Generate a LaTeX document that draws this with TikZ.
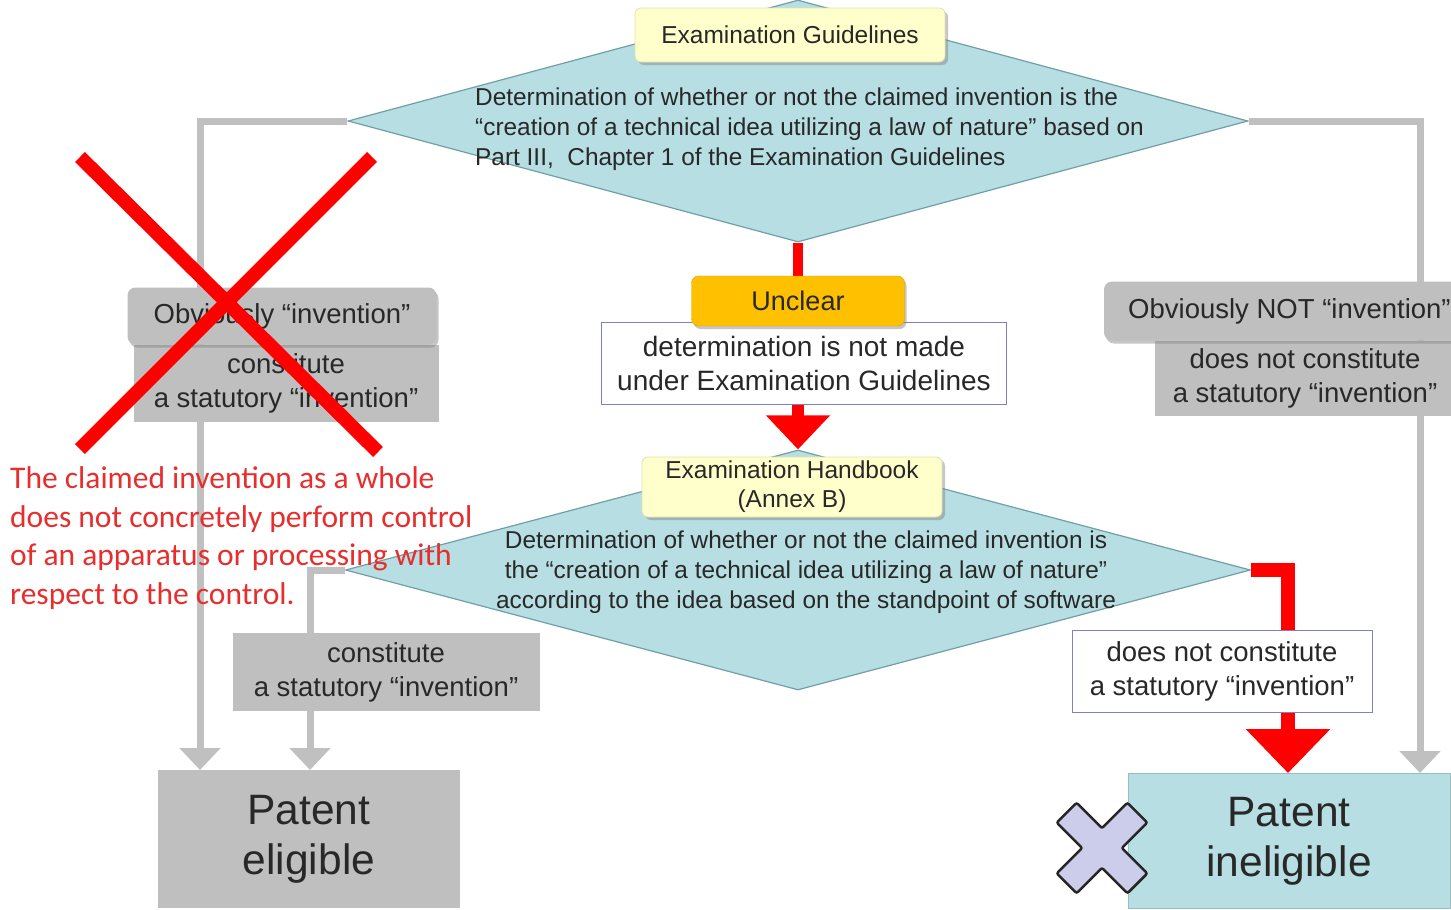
\documentclass[tikz,border=0pt]{standalone}
\usepackage{fontspec}
\setmainfont{Liberation Sans}
\newfontfamily\notefont{Carlito}
\usetikzlibrary{shapes.geometric,arrows.meta,shadows}

\definecolor{diafill}{RGB}{183,222,226}
\definecolor{diaedge}{RGB}{112,160,166}
\definecolor{boxgray}{RGB}{191,191,191}
\definecolor{linegray}{RGB}{192,192,192}
\definecolor{paleyellow}{RGB}{255,255,204}
\definecolor{yellowedge}{RGB}{225,225,175}
\definecolor{amber}{RGB}{255,192,0}
\definecolor{amberedge}{RGB}{220,160,0}
\definecolor{frame}{RGB}{128,128,200}
\definecolor{ink}{RGB}{40,40,40}
\definecolor{notered}{RGB}{232,45,45}
\definecolor{lavender}{RGB}{204,204,235}

\tikzset{
  diam/.style={shape=diamond, draw=diaedge, fill=diafill, line width=1.2pt, inner sep=0pt},
  tag/.style={draw=yellowedge, fill=paleyellow, rounded corners=6pt, line width=0.8pt,
    drop shadow={shadow xshift=3pt, shadow yshift=-3pt, opacity=0.45}, inner sep=0pt,
    text=ink, align=center, font=\fontsize{24.5}{29}\selectfont},
  graytab/.style={fill=boxgray, rounded corners=8pt, inner sep=0pt,
    drop shadow={shadow xshift=2pt, shadow yshift=-3pt, opacity=0.45},
    text=ink, font=\fontsize{27.5}{30}\selectfont},
  grayrect/.style={fill=boxgray, inner sep=0pt, text=ink, align=center,
    font=\fontsize{27.5}{34}\selectfont},
  framebox/.style={draw=frame, fill=white, line width=1pt, inner sep=0pt, text=ink,
    align=center, font=\fontsize{28}{34}\selectfont},
  resultbox/.style={inner sep=0pt, text=ink, align=center, font=\fontsize{42.5}{50}\selectfont},
  graylink/.style={draw=linegray, line width=7pt, -{Triangle[width=40pt,length=22pt]}},
  redlink/.style={draw=red, line width=12pt},
  difftext/.style={text=ink, font=\fontsize{24.4}{30}\selectfont, inner sep=0pt},
}

\begin{document}
\begin{tikzpicture}[x=1pt,y=-1pt]
\useasboundingbox (0,0) rectangle (1451,910);

% landing points on the result boxes
\coordinate (peL) at (200,770);
\coordinate (peR) at (310,770);
\coordinate (piR) at (1420,773);
\coordinate (piM) at (1288,773);

% decision diamonds
\node[diam, minimum width=900pt, minimum height=242pt] (d1) at (798,121) {};
\node[diam, minimum width=905pt, minimum height=240pt] (d2) at (798,570) {};

% grey branches behind everything else
\draw[graylink] (d1.west) -| (peL);
\draw[graylink] (d1.east) -| (piR);
\draw[graylink] (d2.west) -| (peR);

% red branch from the handbook decision
\draw[redlink, line width=14pt, -{Triangle[width=82pt,length=44pt]}] (d2.east) -| (piM);

% texts inside the diamonds
\node[difftext, align=left, anchor=west] (d1t) at (475,129)
  {Determination of whether or not the claimed invention is the\\
   “creation of a technical idea utilizing a law of nature” based on\\
   Part III,\ \ Chapter 1 of the Examination Guidelines};
\node[difftext, align=center] (d2t) at (806,572)
  {Determination of whether or not the claimed invention is\\
   the “creation of a technical idea utilizing a law of nature”\\
   according to the idea based on the standpoint of software};

% source tags
\node[tag, minimum width=310pt, minimum height=54pt] (eg) at (790,35) {Examination Guidelines};
\node[tag, minimum width=300pt, minimum height=60pt] (hb) at (792,487)
  {Examination Handbook\\(Annex B)};

% left outcome of the guidelines
\node[grayrect, minimum width=305pt, minimum height=77pt] (lc) at (286,383)
  {constitute\\a statutory “invention”};
\node[graytab, minimum width=309pt, minimum height=57pt] (lt) at (282,316)
  {Obviously “invention”};

% right outcome of the guidelines
\node[grayrect, minimum width=300pt, minimum height=75pt] (rc) at (1305,378)
  {does not constitute\\a statutory “invention”};
\node[graytab, minimum width=366pt, minimum height=59pt] (rt) at (1287,311) {};
\node[anchor=west, inner sep=0pt, text=ink, font=\fontsize{27.5}{30}\selectfont]
  (rtt) at (1128,311) {Obviously NOT “invention”};

% unclear path
\node[framebox, minimum width=405pt, minimum height=82pt] (nm) at (804,363)
  {determination is not made\\under Examination Guidelines};
\draw[redlink, line width=10pt] (d1.south) -- (798,280);
\node[fill=amber, draw=amberedge, rounded corners=7pt, inner sep=0pt,
  minimum width=213pt, minimum height=50pt, text=ink,
  drop shadow={shadow xshift=2pt, shadow yshift=-3pt, opacity=0.45},
  font=\fontsize{27}{30}\selectfont] (uc) at (798,301) {Unclear};
\draw[redlink, -{Triangle[width=62pt,length=34pt]}] (nm.south -| d2.north) -- (d2.north);

% outcomes of the handbook
\node[grayrect, minimum width=307pt, minimum height=78pt] (hc) at (386,672)
  {constitute\\a statutory “invention”};
\node[framebox, minimum width=300pt, minimum height=82pt, font=\fontsize{27.5}{34}\selectfont]
  (hn) at (1222,671) {does not constitute\\a statutory “invention”};

% final results
\node[resultbox, fill=boxgray, minimum width=302pt, minimum height=138pt] (pe) at (309,839)
  {Patent\\eligible};
\node[resultbox, fill=diafill, draw=diaedge!70, line width=1pt,
  minimum width=322pt, minimum height=135pt] (pi) at (1289,841)
  {Patent\\ineligible};

% cross mark beside the ineligible result
\begin{scope}[shift={(1102,848)}, rotate=45]
  \draw[fill=lavender, draw=black!85, line width=2.5pt, rounded corners=2pt]
    (14,14) -- (14,50) -- (-14,50) -- (-14,14) -- (-50,14) -- (-50,-14)
    -- (-14,-14) -- (-14,-50) -- (14,-50) -- (14,-14) -- (50,-14) -- (50,14) -- cycle;
\end{scope}

% strike-out over the "obviously an invention" branch
\draw[red, line width=14pt] (80,157) -- (378,452);
\draw[red, line width=14pt] (372,157) -- (80,449);

% remark in red
\node[anchor=west, align=left, inner sep=0pt, text=notered,
  font=\notefont\fontsize{31.5}{38.5}\selectfont] (note) at (10,538)
  {The claimed invention as a whole\\
   does not concretely perform control\\
   of an apparatus or processing with\\
   respect to the control.};
\end{tikzpicture}
\end{document}
